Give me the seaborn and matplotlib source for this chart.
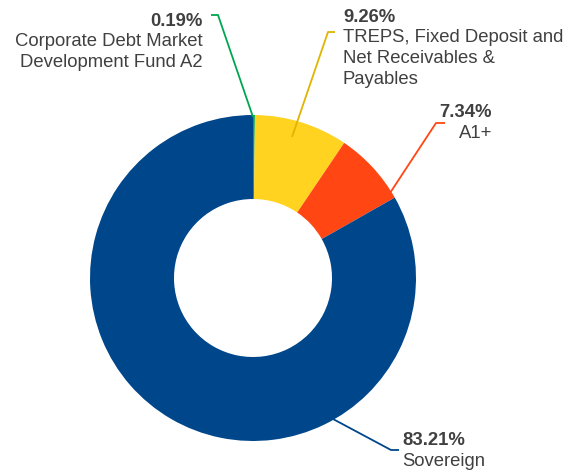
import matplotlib
matplotlib.use("Agg")
import matplotlib.pyplot as plt
import seaborn as sns

sns.set_theme(style="white")
plt.rcParams['font.family'] = ['Liberation Sans', 'DejaVu Sans']

# ---- data ----
categories = ["Corporate Debt Market\nDevelopment Fund A2",
              "TREPS, Fixed Deposit and\nNet Receivables &\nPayables",
              "A1+",
              "Sovereign"]
values = [0.19, 9.26, 7.34, 83.21]
colors = ["#00A651", "#FFD320", "#FF4613", "#00468B"]
line_colors = ["#00A651", "#E0B400", "#FF4613", "#00468B"]

# ---- layout (pixel coordinates, y measured from top) ----
W, H = 582, 471
center_px = (253, 278)
outer_r = 163
inner_r = 79
# leader: start point, elbow point, end point ; text anchor x, first baseline y, alignment
leaders = [
    ((253, 117), (218, 15), (211, 15), 203, 26, 'right'),
    ((292, 137), (328, 32), (335, 32), 343, 22, 'left'),
    ((390, 193), (436, 123), (445, 123), 492, 117, 'right'),
    ((333, 419), (391, 450), (399, 450), 402, 445, 'left'),
]

def P(x, y):
    return x, H - y

fig = plt.figure(figsize=(W / 100, H / 100), dpi=100)
ax = fig.add_axes([0, 0, 1, 1])

ax.pie(values, colors=colors, startangle=90, counterclock=False,
       center=P(*center_px), radius=outer_r, frame=True,
       wedgeprops=dict(width=outer_r - inner_r, linewidth=0))

ax.set_xlim(0, W)
ax.set_ylim(0, H)
ax.set_aspect('equal')
ax.axis('off')

txt_color = "#404040"
fs = 13.3
lh = 20.5
for cat, val, lc, (s, e, t, tx, ty, ha) in zip(categories, values, line_colors, leaders):
    xs = [s[0], e[0], t[0]]
    ys = [H - s[1], H - e[1], H - t[1]]
    ax.plot(xs, ys, color=lc, linewidth=1.3, solid_capstyle='butt')
    ax.text(*P(tx, ty), f"{val:.2f}%", ha=ha, va='baseline', fontsize=fs,
            fontweight='bold', color=txt_color)
    for i, line in enumerate(cat.split("\n")):
        ax.text(*P(tx, ty + lh * (i + 1)), line, ha=ha, va='baseline',
                fontsize=fs, color=txt_color)

fig.savefig("out.png", dpi=100, facecolor='white')
